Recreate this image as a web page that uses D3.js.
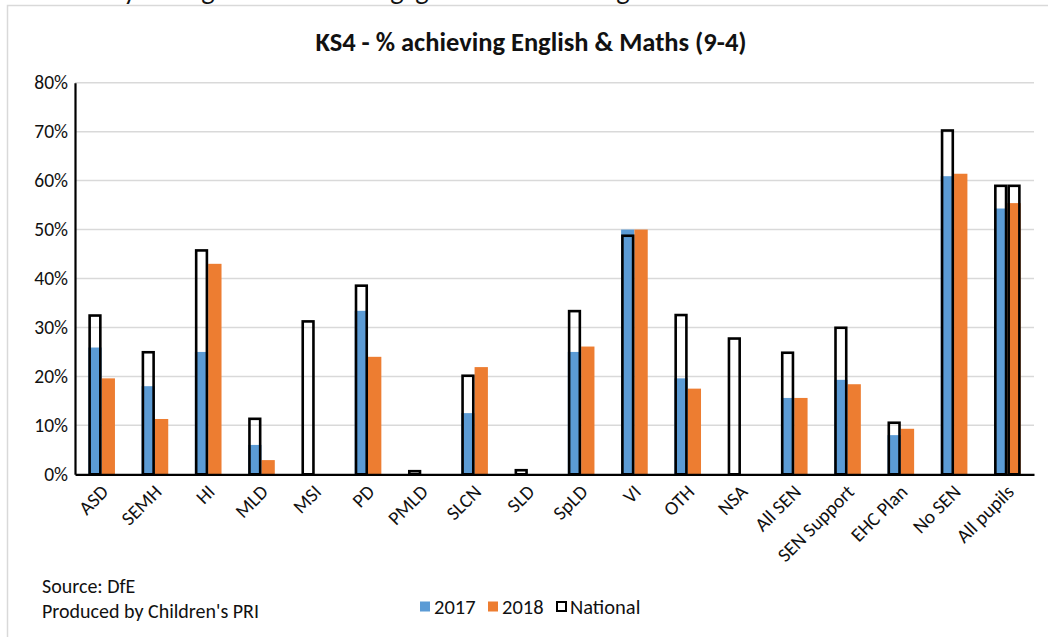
<!DOCTYPE html>
<html>
<head>
<meta charset="utf-8">
<script src="https://cdn.jsdelivr.net/npm/d3@7"></script>
<style>
  html, body { margin: 0; padding: 0; background: #fff; }
  svg { display: block; font-family: Carlito, Lato, "Open Sans", sans-serif; }
</style>
</head>
<body>
<svg id="chart" width="1048" height="637"></svg>
<script>
// KS4 attainment by SEN primary need: % achieving English & Maths (grade 9-4)
const categories = ["ASD", "SEMH", "HI", "MLD", "MSI", "PD", "PMLD", "SLCN", "SLD", "SpLD",
  "VI", "OTH", "NSA", "All SEN", "SEN Support", "EHC Plan", "No SEN", "All pupils"];
const values2017 = [25.9, 18.0, 25.0, 6.0, null, 33.4, null, 12.5, null, 25.0,
  50.0, 19.6, null, 15.6, 19.3, 8.0, 60.9, 54.3];
const values2018 = [19.6, 11.3, 43.0, 2.9, null, 24.0, null, 21.9, null, 26.1,
  50.0, 17.5, null, 15.6, 18.4, 9.3, 61.4, 55.4];
// National comparison, outlined over the 2017 column
const national = [32.7, 25.2, 46.0, 11.6, 31.5, 38.8, 0.9, 20.4, 1.1, 33.6,
  49.0, 32.8, 28.0, 25.1, 30.2, 10.8, 70.5, 59.2];
// National comparison, outlined over the 2018 column
const national2018 = [null, null, null, null, null, null, null, null, null, null,
  null, null, null, null, null, null, null, 59.2];
const yTicks = [0, 10, 20, 30, 40, 50, 60, 70, 80];
const seriesNames = ["2017", "2018", "National"];
const colors = { "2017": "#5b9bd5", "2018": "#ed7d31" };

const svg = d3.select("#chart");

// Heading line of the page above the chart, only its lower edge is in view
const heading = svg.append("g").attr("font-family", "Lato, sans-serif")
  .attr("font-size", 26).attr("fill", "#111");
[["y", 130], ["g", 208], ["g", 397], ["g", 422], ["g", 623]].forEach(([ch, x]) => {
  heading.append("text").attr("x", x).attr("y", -1).attr("text-anchor", "middle").text(ch);
});

// Chart frame
svg.append("rect").attr("x", 7.5).attr("y", 5.5).attr("width", 1060).attr("height", 660)
  .attr("fill", "#fff").attr("stroke", "#d9d9d9").attr("stroke-width", 1.5);

const plot = { left: 75, right: 1034, top: 82.7, bottom: 474.3 };

const x = d3.scaleBand().domain(categories).range([plot.left, plot.right]).padding(0);
const xs = d3.scaleBand().domain(["2017", "2018"]).range([0, x.bandwidth()])
  .paddingInner(0).paddingOuter(1);
const y = d3.scaleLinear().domain([0, 80]).range([plot.bottom, plot.top]);

// Title
svg.append("text").attr("x", 531).attr("y", 51).attr("text-anchor", "middle")
  .attr("font-weight", "bold").attr("font-size", 26.5).attr("fill", "#111")
  .text("KS4 - % achieving English & Maths (9-4)");

// Gridlines
svg.append("g").selectAll("line").data(yTicks.filter(d => d > 0)).join("line")
  .attr("x1", plot.left).attr("x2", plot.right)
  .attr("y1", d => y(d)).attr("y2", d => y(d))
  .attr("stroke", "#d9d9d9").attr("stroke-width", 1.5);

// Bars
const bars = [
  { key: "2017", vals: values2017 },
  { key: "2018", vals: values2018 }
];
bars.forEach(s => {
  svg.append("g").selectAll("rect")
    .data(categories.map((c, i) => ({ c, v: s.vals[i] })).filter(d => d.v != null))
    .join("rect")
    .attr("x", d => x(d.c) + xs(s.key))
    .attr("width", xs.bandwidth())
    .attr("y", d => y(d.v))
    .attr("height", d => y(0) - y(d.v))
    .attr("fill", colors[s.key]);
});

// National outlines
const sw = 2.6;
[{ key: "2017", vals: national }, { key: "2018", vals: national2018 }].forEach(s => {
  svg.append("g").selectAll("rect")
    .data(categories.map((c, i) => ({ c, v: s.vals[i] })).filter(d => d.v != null))
    .join("rect")
    .attr("x", d => x(d.c) + xs(s.key) + sw / 2)
    .attr("width", xs.bandwidth() - sw)
    .attr("y", d => y(d.v) + sw / 2)
    .attr("height", d => Math.max(0, y(0) - y(d.v) - sw / 2))
    .attr("fill", "none").attr("stroke", "#000").attr("stroke-width", sw);
});

// Y axis
const yAxis = svg.append("g").attr("transform", `translate(${plot.left},0)`)
  .call(d3.axisLeft(y).tickValues(yTicks).tickFormat(d => d + "%")
    .tickSizeInner(0).tickSizeOuter(0).tickPadding(7));
yAxis.select(".domain").attr("stroke", "#000").attr("stroke-width", 2.2);
yAxis.selectAll("text").attr("font-size", 19.5).attr("fill", "#111")
  .attr("font-family", "Carlito, Lato, sans-serif");

// X axis
const xAxis = svg.append("g").attr("transform", `translate(0,${plot.bottom})`)
  .call(d3.axisBottom(x).tickSizeInner(0).tickSizeOuter(0).tickPadding(0));
xAxis.select(".domain").attr("stroke", "#000").attr("stroke-width", 2.2);
xAxis.selectAll("text")
  .attr("font-size", 19.5).attr("fill", "#111")
  .attr("font-family", "Carlito, Lato, sans-serif")
  .attr("text-anchor", "end")
  .attr("x", 0).attr("y", 0).attr("dy", "0.35em")
  .attr("transform", "translate(3,14) rotate(-45)");

// Notes
const notes = svg.append("g").attr("font-size", 20).attr("fill", "#111");
notes.append("text").attr("x", 42).attr("y", 593).text("Source: DfE");
notes.append("text").attr("x", 42).attr("y", 618).text("Produced by Children's PRI");

// Legend
const legend = svg.append("g").attr("transform", "translate(420,607)");
const legendItems = [
  { name: seriesNames[0], x: 0 },
  { name: seriesNames[1], x: 68 },
  { name: seriesNames[2], x: 136 }
];
legendItems.forEach(it => {
  const g = legend.append("g").attr("transform", `translate(${it.x},0)`);
  if (it.name === "National") {
    g.append("rect").attr("x", 1).attr("y", -5).attr("width", 9).attr("height", 9)
      .attr("fill", "none").attr("stroke", "#000").attr("stroke-width", 2);
  } else {
    g.append("rect").attr("x", 0).attr("y", -5.5).attr("width", 10).attr("height", 10)
      .attr("fill", colors[it.name]);
  }
  g.append("text").attr("x", 14).attr("y", 0).attr("dy", "0.35em")
    .attr("font-size", 20.5).attr("fill", "#111").text(it.name);
});
</script>
</body>
</html>
